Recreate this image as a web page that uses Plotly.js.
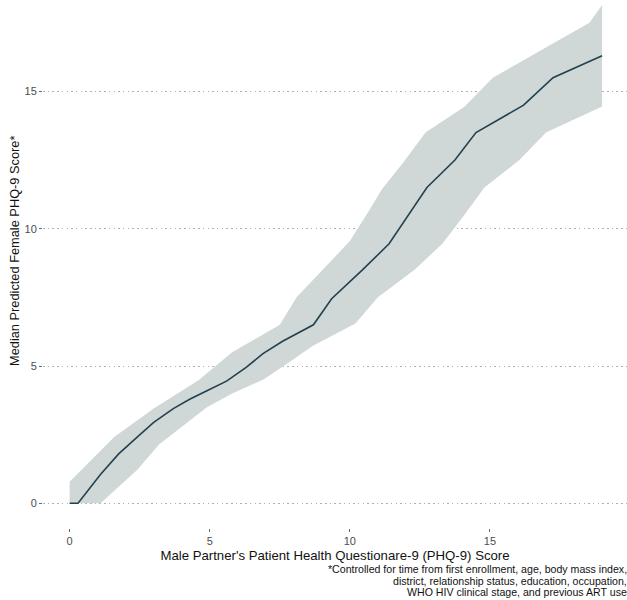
<!DOCTYPE html>
<html>
<head>
<meta charset="utf-8">
<script src="https://cdn.plot.ly/plotly-3.0.1.min.js"></script>
<style>html,body{margin:0;padding:0;background:#fff;}#chart{width:627px;height:600px;}</style>
</head>
<body>
<div id="chart"></div>
<script>
// Median predicted line
const medX = [0, 0.3, 1.1, 1.75, 2.4, 3.0, 3.7, 4.3, 4.9, 5.6, 6.3, 6.9, 7.6, 8.7, 9.35, 10.45, 11.4, 12.1, 12.75, 13.75, 14.5, 16.2, 17.25, 19];
const medY = [0, 0, 1.05, 1.8, 2.4, 2.95, 3.45, 3.8, 4.1, 4.45, 4.95, 5.45, 5.9, 6.5, 7.45, 8.5, 9.45, 10.5, 11.5, 12.5, 13.5, 14.5, 15.5, 16.3];
// Confidence band upper bound
const upX = [0, 1.6, 3.0, 4.6, 5.8, 7.5, 8.1, 9.1, 10.0, 10.65, 11.15, 11.9, 12.7, 14.1, 15.1, 18.55, 19];
const upY = [0.78, 2.42, 3.45, 4.48, 5.5, 6.5, 7.5, 8.6, 9.55, 10.6, 11.45, 12.4, 13.5, 14.45, 15.5, 17.5, 18.15];
// Confidence band lower bound
const loX = [0, 1.1, 2.4, 3.2, 4.9, 5.8, 6.9, 7.6, 8.7, 10.2, 11.0, 12.3, 13.3, 14.05, 14.8, 16.05, 17.0, 19];
const loY = [0, 0, 1.2, 2.15, 3.5, 4.0, 4.5, 4.97, 5.75, 6.55, 7.5, 8.5, 9.45, 10.45, 11.5, 12.5, 13.5, 14.45];
// Ticks
const xTicks = [0, 5, 10, 15];
const yTicks = [0, 5, 10, 15];
const xTitle = "Male Partner's Patient Health Questionare-9 (PHQ-9) Score";
const yTitle = "Median Predicted Female PHQ-9 Score*";
const captionLines = [
  "*Controlled for time from first enrollment, age, body mass index,",
  "district, relationship status, education, occupation,",
  "WHO HIV clinical stage, and previous ART use"
];

const bandX = upX.concat(loX.slice().reverse());
const bandY = upY.concat(loY.slice().reverse());

const traces = [
  {x: bandX, y: bandY, type: 'scatter', mode: 'lines', fill: 'toself',
   fillcolor: '#d0d8d7', line: {width: 0, color: 'rgba(0,0,0,0)'}, hoverinfo: 'skip', showlegend: false},
  {x: medX, y: medY, type: 'scatter', mode: 'lines',
   line: {color: '#23404f', width: 1.6}, showlegend: false}
];

const font = "'Liberation Sans', Arial, Helvetica, sans-serif";
const plotL = 43, plotW = 584, plotH = 528;
const capTop = [561, 572.7, 584.4];
const annotations = captionLines.map((t, i) => ({
  xref: 'paper', yref: 'paper', x: (629 - plotL) / plotW, y: (plotH - capTop[i]) / plotH,
  xanchor: 'right', yanchor: 'top', align: 'right', showarrow: false,
  text: t, font: {size: 10.6, color: '#111', family: font}
}));
annotations.push({
  xref: 'paper', yref: 'paper', x: (15 - plotL) / plotW, y: (plotH - 251) / plotH,
  xanchor: 'center', yanchor: 'middle', showarrow: false, textangle: -90,
  text: yTitle, font: {size: 12.8, color: '#111', family: font}
});

const layout = {
  width: 627, height: 600,
  margin: {l: plotL, r: 0, t: 0, b: 72},
  paper_bgcolor: '#fff', plot_bgcolor: '#fff',
  font: {family: font, color: '#000'},
  xaxis: {
    range: [-0.95, 19.89], tickvals: xTicks, ticktext: xTicks.map(String),
    showgrid: false, zeroline: false, showline: false,
    ticks: 'outside', ticklen: 3, tickcolor: '#666', tickwidth: 1,
    tickfont: {size: 11, color: '#4d4d4d', family: font},
    title: {text: xTitle, font: {size: 13.2, color: '#111', family: font}, standoff: 4},
    automargin: false
  },
  yaxis: {
    range: [-0.9, 18.33], tickvals: yTicks, ticktext: yTicks.map(String),
    showgrid: true, gridcolor: '#b0b0b0', griddash: '1.5px,3.2px', gridwidth: 1,
    zeroline: false, showline: false,
    ticks: 'outside', ticklen: 3, tickcolor: '#666', tickwidth: 1,
    tickfont: {size: 11, color: '#4d4d4d', family: font},
    automargin: false
  },
  annotations: annotations,
  showlegend: false
};

Plotly.newPlot('chart', traces, layout, {displayModeBar: false, staticPlot: true});
</script>
</body>
</html>
